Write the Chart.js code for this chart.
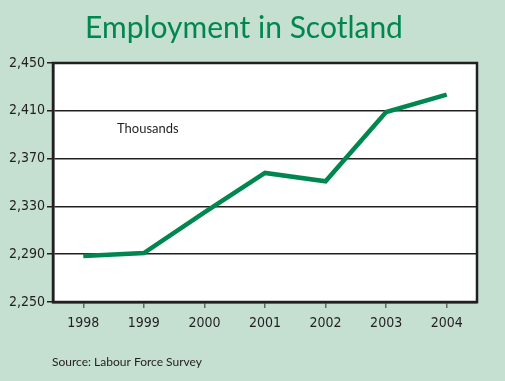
<!DOCTYPE html>
<html lang="en">
<head>
  <meta charset="UTF-8">
  <title>Employment in Scotland</title>
  <script src="https://cdn.jsdelivr.net/npm/chart.js"></script>
  <style>
    html, body { margin: 0; padding: 0; background: #c5dfd0; }
    #wrap { width: 505px; height: 381px; }
  </style>
</head>
<body>
  <div id="wrap"><canvas id="employmentChart" width="505" height="381"></canvas></div>

  <script>
    // data (thousands)
    const years = ['1998', '1999', '2000', '2001', '2002', '2003', '2004'];
    const employment = [2288.5, 2291, 2325, 2358, 2351, 2409, 2423.5];
    const yTicks = [2250, 2290, 2330, 2370, 2410, 2450];

    const green = '#00874f';
    const bg = '#c5dfd0';
    const narrow = "'Liberation Sans Narrow', 'DejaVu Sans Condensed', sans-serif";

    // background, white plot area, border and the extra labels
    const decor = {
      id: 'decor',
      beforeDraw(chart) {
        const { ctx, chartArea: a } = chart;
        ctx.save();
        ctx.fillStyle = bg;
        ctx.fillRect(0, 0, chart.width, chart.height);
        ctx.fillStyle = '#ffffff';
        ctx.fillRect(a.left, a.top, a.right - a.left, a.bottom - a.top);
        ctx.restore();
      },
      afterDraw(chart) {
        const { ctx, chartArea: a } = chart;
        ctx.save();
        ctx.strokeStyle = '#231f20';
        ctx.lineWidth = 2.5;
        ctx.strokeRect(a.left, a.top, a.right - a.left, a.bottom - a.top);

        ctx.fillStyle = green;
        ctx.font = '30px Lato, sans-serif';
        ctx.textAlign = 'center';
        ctx.textBaseline = 'alphabetic';
        ctx.fillText('Employment in Scotland', 244, 38);

        ctx.fillStyle = '#231f20';
        ctx.font = '13px Lato, sans-serif';
        ctx.textAlign = 'left';
        ctx.textBaseline = 'middle';
        ctx.fillText('Thousands', 117, 129);

        ctx.font = '12px Lato, sans-serif';
        ctx.fillText('Source: Labour Force Survey', 52, 362);
        ctx.restore();
      }
    };

    new Chart(document.getElementById('employmentChart'), {
      type: 'line',
      data: {
        labels: years,
        datasets: [{
          label: 'Employment',
          data: employment,
          borderColor: green,
          borderWidth: 4.5,
          pointRadius: 0,
          tension: 0,
          fill: false
        }]
      },
      options: {
        responsive: false,
        animation: false,
        layout: { padding: { left: 0, right: 28, top: 63, bottom: 0 } },
        plugins: {
          legend: { display: false },
          tooltip: { enabled: false }
        },
        scales: {
          x: {
            offset: true,
            afterFit(scale) { scale.height = 79; },
            grid: {
              drawOnChartArea: false,
              tickLength: 6,
              color: '#666666',
              lineWidth: 1.5
            },
            border: { color: '#231f20', width: 2.5 },
            ticks: {
              color: '#231f20',
              font: { family: narrow, size: 14 },
              padding: 7,
              maxRotation: 0
            }
          },
          y: {
            min: 2250,
            max: 2450,
            afterFit(scale) { scale.width = 53; },
            afterBuildTicks(scale) {
              scale.ticks = yTicks.map(v => ({ value: v }));
            },
            grid: {
              color: '#231f20',
              lineWidth: 1.5,
              tickLength: 6
            },
            border: { color: '#231f20', width: 2.5 },
            ticks: {
              color: '#231f20',
              font: { family: narrow, size: 14 },
              padding: 2,
              callback: v => v.toLocaleString('en-US')
            }
          }
        }
      },
      plugins: [decor]
    });
  </script>
</body>
</html>
